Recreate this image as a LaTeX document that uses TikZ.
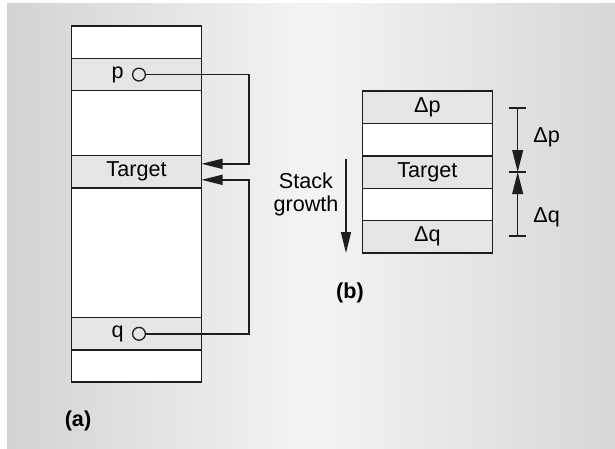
\documentclass[tikz,border=0pt]{standalone}
\usepackage{fontspec}
\setmainfont{Liberation Sans}
\usetikzlibrary{arrows.meta,calc,positioning}

\definecolor{bgleft}{RGB}{210,211,213}
\definecolor{bgmid}{RGB}{244,244,245}
\definecolor{bgright}{RGB}{214,215,217}
\definecolor{ink}{RGB}{30,30,30}

\tikzset{
  cell/.style={draw=ink, line width=0.7pt, minimum width=65pt, minimum height=16.2pt,
    inner sep=0pt, outer sep=0pt},
  grey cell/.style={cell, fill=black!10},
  ptr/.style={draw=ink, line width=0.7pt, -{Triangle[length=10.5pt,width=5pt]}},
  dimline/.style={draw=ink, line width=0.7pt,
    {Bar[width=8.5pt]}-{Triangle[length=11pt,width=5.4pt]}},
  dot/.style={circle, draw=ink, line width=0.65pt, inner sep=0pt, minimum size=6.4pt},
  caption/.style={font=\fontsize{10.8}{12}\selectfont\bfseries}
}

\begin{document}
\begin{tikzpicture}[x=0.5pt, y=-0.5pt, font=\fontsize{10.8}{11.7}\selectfont]
  \useasboundingbox (0,0) rectangle (615,449);
  \shade[left color=bgleft, right color=bgright, middle color=bgmid] (7,4) rectangle (615,449);

  % (a) the stack with two pointers
  \node[cell, fill=white, minimum height=178pt, anchor=north] (stackA) at (136.5,26) {};
  \foreach \name/\k in {pA/1, tgtA/4, qA/9}
    \node[grey cell] (\name) at (136.5,{26+32.4*(\k+0.5)}) {};
  \node at (tgtA) {Target};

  \node[dot] (pdot) at (139,74.6) {};
  \node[left=4pt of pdot, inner sep=0pt] (plbl) {p};
  \node[dot] (qdot) at (139,333.8) {};
  \node[left=4pt of qdot, inner sep=0pt] (qlbl) {q};

  \coordinate (bendx) at (249,0);
  \draw[ptr] (pdot.east) -- (pdot -| bendx) |- ([yshift=4pt]tgtA.east);
  \draw[ptr] (qdot.east) -- (qdot -| bendx) |- ([yshift=-4pt]tgtA.east);

  \node[caption] (capA) at (78,421) {(a)};

  % (b) offsets from the target
  \foreach \k/\txt/\f in {0/Δp/black!10, 1//white, 2/Target/black!10, 3//white, 4/Δq/black!10}
    \node[cell, fill=\f] (b\k) at (427.3,{91+32.4*(\k+0.5)}) {\txt};

  \coordinate (growtop) at (346,159);
  \draw[ptr] (growtop) -- (growtop |- b4.south);
  \node[align=center] (growlbl) at (306,194.5) {Stack\\growth};

  \coordinate (dimx) at (517.7,0);
  \coordinate (dtop) at (b0 -| dimx);
  \coordinate (dmid) at (b2 -| dimx);
  \coordinate (dbot) at (b4 -| dimx);
  \draw[dimline] (dtop) -- (dmid);
  \draw[dimline] (dbot) -- (dmid);
  \draw[draw=ink, line width=0.7pt] ([xshift=-4.25pt]dmid) -- ([xshift=4.25pt]dmid);
  \node[anchor=west, inner sep=0pt] (dplbl) at (533,137) {Δp};
  \node[anchor=west, inner sep=0pt] (dqlbl) at (533,217) {Δq};

  \node[caption] (capB) at (350,293) {(b)};
\end{tikzpicture}
\end{document}
